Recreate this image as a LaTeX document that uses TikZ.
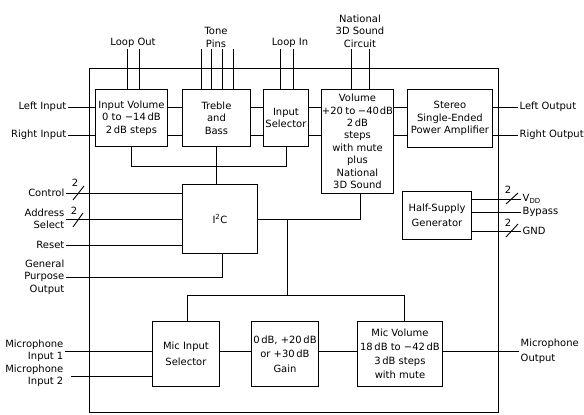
\documentclass[tikz,border=0pt]{standalone}
\usepackage{fontspec}
\setmainfont{DejaVu Sans}
\usetikzlibrary{calc}
\begin{document}
\begin{tikzpicture}[x=1bp,y=-1bp,
  every node/.style={font=\fontsize{10}{12.5}\selectfont, inner sep=1.5bp},
  blk/.style={draw, line width=0.9bp, align=center, anchor=north west, inner sep=0pt},
  wire/.style={line width=0.9bp},
  lbl/.style={align=center}]
\useasboundingbox (0,0) rectangle (584,414);
% chip outline
\node[draw, line width=0.9bp, minimum width=409bp, minimum height=344bp, anchor=north west, inner sep=0pt] (chip) at (89,68) {};
% blocks
\node[blk, minimum width=72bp, minimum height=57bp] (iv) at (95,89) {Input Volume\\0 to −14\,dB\\2\,dB steps};
\node[blk, minimum width=68bp, minimum height=57bp] (tb) at (182,89) {Treble\\and\\Bass};
\node[blk, minimum width=45bp, minimum height=57bp] (is) at (263,89) {Input\\Selector};
\node[blk, minimum width=72bp, minimum height=104bp] (vol) at (321,89) {Volume\\+20\hspace{2.5bp}to\hspace{2.5bp}−40\hspace{0.8bp}dB\\2\,dB\\steps\\with mute\\plus\\National\\3D Sound};
\node[blk, minimum width=85bp, minimum height=58bp] (st) at (407,89) {Stereo\\Single-Ended\\Power Amplifier};
\node[blk, minimum width=75bp, minimum height=69bp] (i2c) at (182,184) {I\textsuperscript{2}C};
\node[blk, minimum width=69bp, minimum height=48bp, font=\fontsize{10}{15.5}\selectfont] (hs) at (402,191) {Half-Supply\\Generator};
\node[blk, minimum width=67bp, minimum height=65bp, font=\fontsize{10}{16}\selectfont] (ms) at (152,321) {Mic Input\\Selector};
\node[blk, minimum width=67bp, minimum height=65bp, font=\fontsize{10}{14.5}\selectfont] (gn) at (251,321) {0\,dB, +20\,dB\\or +30\,dB\\Gain};
\node[blk, minimum width=85bp, minimum height=65bp, font=\fontsize{10}{14}\selectfont] (mv) at (357,321) {Mic Volume\\18\,dB to −42\,dB\\3\,dB steps\\with mute};
% top labels
\node[lbl, anchor=south] (lout) at (133,49) {Loop Out};
\node[lbl, anchor=south] (tone) at (216,49) {Tone\\Pins};
\node[lbl, anchor=south] (lin) at (290,49) {Loop In};
\node[lbl, anchor=south] (n3d) at (360,49) {National\\3D Sound\\Circuit};
\draw[wire] (127,0 |- lout.south) -- (127,0 |- iv.north);
\draw[wire] (139,0 |- lout.south) -- (139,0 |- iv.north);
\draw[wire] (201,0 |- tone.south) -- (201,0 |- tb.north);
\draw[wire] (211,0 |- tone.south) -- (211,0 |- tb.north);
\draw[wire] (222,0 |- tone.south) -- (222,0 |- tb.north);
\draw[wire] (233,0 |- tone.south) -- (233,0 |- tb.north);
\draw[wire] (280,0 |- lin.south) -- (280,0 |- is.north);
\draw[wire] (293,0 |- lin.south) -- (293,0 |- is.north);
\draw[wire] (351,0 |- n3d.south) -- (351,0 |- vol.north);
\draw[wire] (369,0 |- n3d.south) -- (369,0 |- vol.north);
% left inputs / right outputs
\node[anchor=east] (li) at (68,107) {Left Input};
\node[anchor=east] (ri) at (68,135) {Right Input};
\node[anchor=west] (lo) at (518,107) {Left Output};
\node[anchor=west] (ro) at (518,135) {Right Output};
\foreach \s in {li,ri}{
  \draw[wire] (\s.east) -- (\s -| iv.west);
  \draw[wire] (\s -| iv.east) -- (\s -| tb.west);
  \draw[wire] (\s -| tb.east) -- (\s -| is.west);
  \draw[wire] (\s -| is.east) -- (\s -| vol.west);
  \draw[wire] (\s -| vol.east) -- (\s -| st.west);
}
\draw[wire] (lo -| st.east) -- (lo.west);
\draw[wire] (ro -| st.east) -- (ro.west);
% control bus
\coordinate (bus1) at ($(tb.south)+(0,20)$);
\draw[wire] (iv.south) |- (bus1) -| (is.south);
\draw[wire] (tb.south) -- (tb.south |- i2c.north);
% I2C left side
\node[anchor=east] (ctl) at (66,193) {Control};
\node[anchor=east, align=right] (adr) at (66,219) {Address\\Select};
\node[anchor=east] (rst) at (66,245) {Reset};
\node[anchor=east, align=right] (gpo) at (66,277) {General\\Purpose\\Output};
\draw[wire] (ctl.east) -- (ctl -| i2c.west);
\draw[wire] (adr.east) -- (adr -| i2c.west);
\draw[wire] (rst.east) -- (rst -| i2c.west);
\draw[wire] (gpo.east) -| ($(i2c.south)+(2.5,0)$);
\draw[wire] ($(ctl.east)+(7,7)$) -- ($(ctl.east)+(18,-7)$);
\node at ($(ctl.east)+(9,-10)$) {2};
\draw[wire] ($(adr.east)+(7,8)$) -- ($(adr.east)+(17,-6)$);
\node at ($(adr.east)+(8,-8)$) {2};
% I2C right side
\draw[wire] (i2c.east) -| ($(vol.south)+(3,0)$);
\coordinate (bus2) at ($(is.south |- gn.north)+(1.5,-26)$);
\draw[wire] (bus2 |- i2c.east) -- (bus2);
\draw[wire] ($(ms.north)+(1.5,0)$) |- (bus2) -| ($(mv.north)+(4.5,0)$);
% half supply
\node[anchor=west] (vdd) at (521,199) {V\textsubscript{DD}};
\node[anchor=west] (byp) at (521,212) {Bypass};
\node[anchor=west] (gnd) at (521,231) {GND};
\draw[wire] (vdd -| hs.east) -- (vdd.west);
\draw[wire] (byp -| hs.east) -- (byp.west);
\draw[wire] (gnd -| hs.east) -- (gnd.west);
\draw[wire] ($(vdd.west)+(-15,5)$) -- ($(vdd.west)+(-3,-6)$);
\node at ($(vdd.west)+(-13,-9)$) {2};
\draw[wire] ($(gnd.west)+(-15,6)$) -- ($(gnd.west)+(-3,-7)$);
\node at ($(gnd.west)+(-13,-8)$) {2};
% mic section
\node[anchor=east, align=right] (mic1) at (65,351) {Microphone\\Input 1};
\node[anchor=east, align=right] (mic2) at (65,376) {Microphone\\Input 2};
\node[anchor=west, align=left, font=\fontsize{10}{15.5}\selectfont] (mo) at (519,351) {Microphone\\Output};
\draw[wire] (mic1.east) -- (mic1 -| ms.west);
\draw[wire] ($(mic2.east)+(6,0)$) -- (mic2 -| ms.west);
\draw[wire] (mic1 -| ms.east) -- (mic1 -| gn.west);
\draw[wire] (mic1 -| gn.east) -- (mic1 -| mv.west);
\draw[wire] (mo -| mv.east) -- (mo.west);
\end{tikzpicture}
\end{document}
